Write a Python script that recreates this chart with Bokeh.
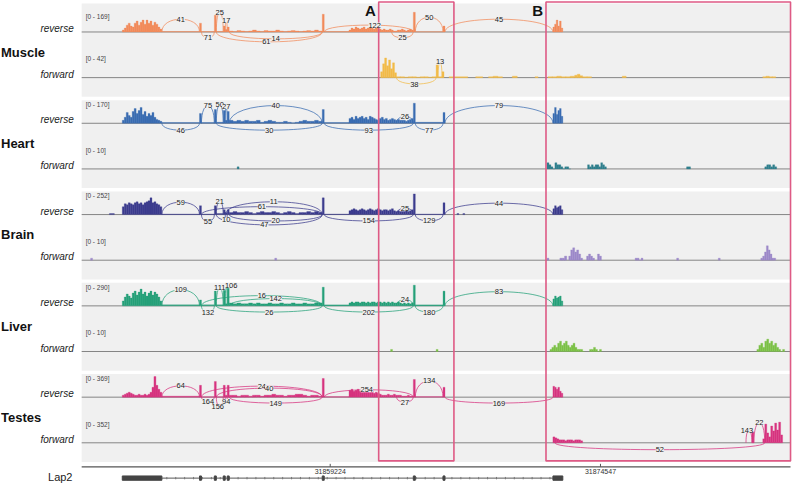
import numpy as np
from bokeh.plotting import figure
from bokeh.models import Range1d, ColumnDataSource, LabelSet
from bokeh.core.properties import value
from bokeh.embed import file_html
from bokeh.resources import INLINE

# ---------------- data ----------------
REGION_START = 31840530            # genomic coordinate at the left edge of the view
tick_values = [31859224, 31874547]
gene_name = "Lap2"
# exon coordinates (bp offsets from REGION_START)
exon_start = [6904, 11282, 12124, 12629, 12854, 18242, 23406, 25090, 31321]
exon_end = [9149, 11394, 12236, 12741, 12966, 18354, 23518, 25202, 31882]
region_names = ["A", "B"]
region_start = [21442, 30928]
region_end = [25708, 44792]

tissues = ["Muscle", "Heart", "Brain", "Liver", "Testes"]
strands = ["reverse", "forward"]
track_max = [169, 42, 170, 10, 252, 10, 290, 10, 369, 352]

# coverage blocks: (start, end, read counts in equal bins)
muscle_rev_cov = [
    (6904, 9149, [16, 32, 56, 72, 48, 40, 72, 89, 56, 80, 97, 64, 97, 72, 89, 56, 80, 64, 40, 24]),
    (9149, 11282, [3]), (11282, 11394, [72]), (11394, 12124, [3]), (12124, 12236, [137]),
    (12236, 12629, [4]), (12629, 12741, [48]), (12741, 12854, [20]), (12854, 12966, [40]),
    (12966, 18242, [8, 4, 12, 8, 4, 8, 16, 8, 4, 12, 8, 8, 16, 8, 4, 8, 12, 8, 4, 8, 12, 8, 16, 8]),
    (18242, 18354, [145]), (18354, 19758, [3]),
    (19758, 23406, [16, 32, 24, 40, 32, 24, 32, 40, 24, 32, 40, 32, 24, 32, 40, 24,
                    16, 24, 16, 16, 24, 16, 8, 8, 16, 16, 24, 16, 8, 16, 24, 16]),
    (23406, 23518, [161]), (23518, 25090, [2]), (25090, 25202, [48]),
    (31321, 31882, [40, 64, 97, 48, 89, 32]),
]
muscle_fwd_cov = [
    (21554, 22452, [12, 28, 40, 24, 36, 18, 30, 10]),
    (22452, 24697, [2, 2, 1, 2, 2, 1, 2, 2, 1, 2]),
    (24697, 24809, [26]), (24809, 25034, [2]), (25034, 25146, [12]),
    (25427, 26494, [2]), (26942, 27335, [2]), (27672, 28458, [2, 3, 2]), (29019, 29300, [3]),
    (30310, 30479, [2]), (31040, 32555, [2, 2, 3, 2, 2, 3]), (32555, 33004, [5, 7, 4]),
    (33004, 33510, [2, 2]), (35250, 35474, [3]), (43220, 43950, [2, 3, 2, 2]),
]
heart_rev_cov = [
    (6904, 9149, [24, 49, 89, 65, 49, 97, 121, 81, 105, 130, 73, 97, 57, 81, 65, 89, 49, 32, 24, 16]),
    (9149, 11282, [6]), (11282, 11394, [81]), (11394, 12124, [6]), (12124, 12236, [113]),
    (12236, 12629, [8]), (12629, 12741, [105]), (12741, 12854, [24]), (12854, 12966, [97]),
    (12966, 18242, [24, 16, 24, 16, 24, 16, 16, 24, 8, 16, 24, 16, 8, 8, 16, 8, 4, 8, 16, 24, 16, 16, 24, 16]),
    (18242, 18354, [113]), (18354, 19758, [6]),
    (19758, 22733, [40, 49, 32, 57, 40, 49, 57, 40, 49, 32, 57, 49, 40, 32, 24, 40, 49, 32, 40, 24,
                    32, 40, 32, 24, 32, 24]),
    (22733, 23406, [24, 24, 16, 24, 32, 40]),
    (23406, 23518, [165]), (23518, 25090, [8]), (25090, 25202, [89]),
    (31321, 31882, [81, 130, 73, 105, 121, 57]),
]
heart_fwd_cov = [
    (13415, 13527, [1]),
    (30984, 32331, [3, 2, 1, 0, 3, 2, 2, 1, 0, 1, 1, 0]),
    (33285, 34352, [2, 1, 2, 1, 2, 2, 1, 3, 2, 1]),
    (38898, 39122, [1]),
    (43332, 44006, [1, 2, 2, 1, 2, 1]),
]
brain_rev_cov = [
    (6174, 6455, [12]),
    (6904, 9149, [96, 132, 120, 144, 132, 120, 144, 156, 132, 144, 120, 144, 156, 168, 204, 144, 156, 132, 120, 96]),
    (9149, 11282, [6]), (11282, 11394, [108]), (11394, 12124, [6]), (12124, 12236, [108]),
    (12236, 12629, [12]), (12629, 12741, [60]), (12741, 12854, [24]), (12854, 12966, [60]),
    (12966, 18242, [24, 36, 24, 24, 36, 24, 12, 24, 36, 24, 24, 36, 24, 12, 24, 36, 24, 12, 24, 24, 36, 24, 36, 24]),
    (18242, 18354, [204]), (18354, 19758, [6]),
    (19758, 22733, [48, 60, 72, 60, 48, 60, 72, 60, 48, 60, 72, 60, 48, 60, 72, 60, 48, 60, 60, 48,
                    60, 72, 48, 36, 48, 36]),
    (22733, 23406, [36, 36, 48, 36, 48, 60]),
    (23406, 23518, [252]), (23518, 25090, [6]), (25090, 25202, [144]),
    (25877, 25989, [12]), (26214, 26326, [12]),
    (31321, 31882, [72, 108, 84, 96, 108, 60]),
]
brain_fwd_cov = [
    (5108, 5220, [1]), (15548, 15660, [1]), (30984, 31096, [1]),
    (31714, 32105, [1, 1, 2]), (32218, 33004, [2, 5, 6, 4, 5, 3, 1]),
    (33229, 33678, [2, 3, 2, 1]), (33846, 34071, [3, 2]),
    (35980, 36429, [1, 1, 0, 1]), (38336, 38448, [1]), (40694, 40806, [1]),
    (43108, 43950, [1, 2, 4, 7, 5, 3, 1, 1]),
]
liver_rev_cov = [
    (6904, 9149, [69, 124, 166, 138, 110, 179, 207, 152, 193, 235, 166, 193, 138, 179, 207, 152, 193, 166, 124, 69]),
    (9149, 11282, [14]), (11282, 11394, [83]), (11394, 12124, [14]), (12124, 12236, [207]),
    (12236, 12629, [14]), (12629, 12741, [221]), (12741, 12854, [28]), (12854, 12966, [248]),
    (12966, 18242, [41, 28, 41, 28, 28, 41, 28, 41, 28, 28, 41, 28, 28, 41, 28, 28, 41, 28, 28, 41, 28, 28, 41, 41]),
    (18242, 18354, [262]), (18354, 19758, [14]),
    (19758, 22733, [41, 55, 41, 55, 55, 41, 55, 55, 41, 55, 41, 55, 55, 41, 55, 55, 41, 55, 41, 55,
                    41, 55, 41, 41, 55, 41]),
    (22733, 23406, [28, 41, 28, 41, 28, 41]),
    (23406, 23518, [290]), (23518, 25090, [14]), (25090, 25202, [207]),
    (31321, 31882, [97, 138, 110, 124, 138, 69]),
]
liver_fwd_cov = [
    (22115, 22227, [1]), (24697, 24809, [1]),
    (31152, 33117, [1, 2, 3, 2, 4, 5, 3, 4, 5, 3, 2, 3, 4, 2, 1, 1, 1, 0]),
    (33397, 34071, [1, 1, 2, 1, 0, 1]),
    (42884, 44455, [1, 3, 4, 2, 5, 6, 4, 5, 3, 4, 2, 1, 0, 1]),
]
testes_rev_cov = [
    (6904, 9149, [35, 53, 70, 88, 70, 53, 35, 35, 53, 35, 35, 53, 35, 53, 88, 176, 369, 211, 141, 88]),
    (9149, 11282, [18]), (11282, 11394, [211]), (11394, 12124, [9]), (12124, 12236, [281]),
    (12236, 12629, [9]), (12629, 12741, [211]), (12741, 12854, [35]), (12854, 12966, [211]),
    (12966, 18242, [35, 35, 18, 35, 35, 18, 35, 35, 18, 35, 35, 53, 35, 35, 18, 35, 35, 53, 53, 35, 18, 35, 35, 18]),
    (18242, 18354, [334]), (18354, 19758, [9]),
    (19758, 22733, [123, 141, 106, 123, 141, 106, 88, 106, 123, 106, 88, 106, 70, 88, 70, 53, 35, 35, 35, 53,
                    35, 35, 53, 35, 35, 35]),
    (22733, 23406, [18, 18, 18, 35, 18, 18]),
    (23406, 23518, [316]), (23518, 25090, [9]), (25090, 25202, [176]),
    (31321, 31882, [194, 176, 141, 176, 106, 70]),
]
testes_fwd_cov = [
    (31321, 33004, [101, 84, 67, 50, 50, 50, 34, 50, 50, 50, 34, 50, 50, 50, 34]),
    (42603, 42715, [185]),
    (43220, 44343, [67, 319, 168, 101, 286, 202, 336, 218, 352, 134]),
]

# splice junctions: (start, end, supporting reads)
muscle_rev_junc = [(9149, 11282, 41), (11394, 12124, 71), (12236, 12629, 25), (12741, 12854, 17),
                   (12236, 18242, 61), (12966, 18242, 14), (18354, 23406, 122), (22171, 23406, 25),
                   (23518, 25090, 50), (25202, 31321, 45)]
muscle_fwd_junc = [(22452, 24697, 38), (24809, 25034, 13)]
heart_rev_junc = [(9149, 11282, 46), (11394, 12124, 75), (12236, 12629, 50), (12741, 12854, 27),
                  (12966, 18242, 40), (12236, 18242, 30), (18354, 23406, 93), (22452, 23406, 26),
                  (23518, 25090, 77), (25202, 31321, 79)]
brain_rev_junc = [(9149, 11282, 59), (11394, 12124, 55), (12236, 12629, 21), (12741, 12854, 10),
                  (12741, 18242, 11), (11394, 18242, 61), (12236, 18242, 47), (12966, 18242, 20),
                  (18354, 23406, 154), (22452, 23406, 25), (23518, 25090, 129), (25202, 31321, 44)]
liver_rev_junc = [(9149, 11282, 109), (11394, 12124, 132), (12236, 12629, 111), (12741, 12854, 106),
                  (11394, 18242, 16), (12966, 18242, 142), (12236, 18242, 26), (18354, 23406, 202),
                  (22452, 23406, 24), (23518, 25090, 180), (25202, 31321, 83)]
testes_rev_junc = [(9149, 11282, 64), (11394, 12124, 164), (12236, 12629, 156), (12741, 12854, 94),
                   (11394, 18242, 24), (12236, 18242, 40), (12966, 18242, 149), (18354, 23406, 254),
                   (22452, 23406, 27), (23518, 25090, 134), (25202, 31321, 169)]
testes_fwd_junc = [(31433, 43332, 52), (42715, 43332, 22), (42266, 42603, 143)]

# ---------------- style / layout ----------------
# arc drawing style per junction: (apex height in px, +above / -below ; label x shift in px)
muscle_rev_arc = [(13, 0), (-6, 0), (20, 0), (12, 0), (-10, -3), (-7, 0), (7, 6), (-6, 0), (15, 0), (13, 0)]
muscle_fwd_arc = [(-6.5, -2), (16, 0)]
heart_rev_arc = [(-7, 0), (18, 0), (19, 0), (17, 0), (18, 0), (-7, 0), (-7, 0), (7, 0), (-7, 0), (18, 0)]
brain_rev_arc = [(12.6, 0), (-7, 0), (13.6, 0), (-5.5, 0), (13, 0), (8, 0), (-10.5, -5), (-6.5, 0),
                 (-6.5, 0), (6.6, 0), (-6.5, 0), (11.6, 0)]
liver_rev_arc = [(16.4, 0), (-6.3, 0), (18.4, 0), (21, 5), (10.4, 0), (7.4, 0), (-6.3, 0), (-6.3, 0),
                 (6.4, 0), (-6.3, 0), (14.4, 0)]
testes_rev_arc = [(11.5, 0), (-4.5, 0), (-9.5, -2), (-4.5, 0), (11.2, 0), (9.2, 0), (-6, 0), (7.5, -2),
                  (-5, 0), (16.5, 0), (-6, 0)]
testes_fwd_arc = [(-7, 0), (20.6, 0), (13, -2)]

coverage = [muscle_rev_cov, muscle_fwd_cov, heart_rev_cov, heart_fwd_cov, brain_rev_cov,
            brain_fwd_cov, liver_rev_cov, liver_fwd_cov, testes_rev_cov, testes_fwd_cov]
junctions = [muscle_rev_junc, muscle_fwd_junc, heart_rev_junc, [], brain_rev_junc, [],
             liver_rev_junc, [], testes_rev_junc, testes_fwd_junc]
arc_style = [muscle_rev_arc, muscle_fwd_arc, heart_rev_arc, [], brain_rev_arc, [],
             liver_rev_arc, [], testes_rev_arc, testes_fwd_arc]
colors = ["#f28b5b", "#f2bb48", "#3a6cb2", "#2f7f8d", "#3c3c8e",
          "#9c89c9", "#26a179", "#7cc146", "#d7337f", "#d7337f"]

W, H = 792, 485
REF_W, REF_H = 800, 493
BP_PER_PX = 56.13
BASE0, PITCH, SCALE = 32.0, 46.4, 21.0
BAND = "#f0f0f0"
FONT = "Liberation Sans"


def gx(rx):
    return REGION_START + rx * BP_PER_PX


p = figure(width=W, height=H, x_range=Range1d(gx(0), gx(REF_W)), y_range=Range1d(REF_H, 0),
           x_axis_type=None, y_axis_type=None, output_backend="svg", toolbar_location=None,
           min_border=0, outline_line_color=None, background_fill_color="white",
           border_fill_color="white")

bases = [BASE0 + k * PITCH for k in range(10)]

# per-track value scales
ranges = {}
for k in range(10):
    vmax = track_max[k]
    b = bases[k]
    ranges[f"t{k}"] = Range1d(start=(b - REF_H) * vmax / SCALE, end=b * vmax / SCALE)
p.extra_y_ranges = ranges

# gray bands per tissue
band_top = [3 if j == 0 else bases[2 * j] - 23.5 for j in range(5)]
band_bot = [bases[2 * j] + PITCH + 19.5 for j in range(5)]
p.quad(left=gx(82), right=gx(798), top=band_top, bottom=band_bot, fill_color=BAND, line_color=None)

# baselines
p.segment(x0=gx(82), x1=gx(798), y0=bases, y1=bases, line_color="#858585", line_width=1)

# coverage
for k in range(10):
    L, R, T = [], [], []
    for s, e, vals in coverage[k]:
        w = (e - s) / len(vals)
        for i, v in enumerate(vals):
            L.append(REGION_START + s + i * w)
            R.append(REGION_START + s + (i + 1) * w)
            T.append(v)
    p.quad(left=L, right=R, bottom=0, top=T, y_range_name=f"t{k}",
           fill_color=colors[k], line_color=colors[k], line_width=0.3)

# junction arcs + counts
for k in range(10):
    if not junctions[k]:
        continue
    b = bases[k]
    x0 = [REGION_START + s for s, e, c in junctions[k]]
    x1 = [REGION_START + e for s, e, c in junctions[k]]
    hs = [h for h, dx in arc_style[k]]
    dxs = [dx for h, dx in arc_style[k]]
    src = ColumnDataSource(dict(
        x0=x0, x1=x1, y=[b] * len(x0),
        cy=[b - h / 0.75 for h in hs],
        lx=[(a + c) / 2 + d * BP_PER_PX for a, c, d in zip(x0, x1, dxs)],
        ly=[b - h for h in hs],
        txt=[str(c) for s, e, c in junctions[k]]))
    p.bezier(x0="x0", y0="y", x1="x1", y1="y", cx0="x0", cy0="cy", cx1="x1", cy1="cy",
             source=src, line_color=colors[k], line_alpha=0.75, line_width=1)
    p.add_layout(LabelSet(x="lx", y="ly", text="txt", source=src, text_font=value(FONT),
                          text_font_size="7.5px", text_color="#222222", text_align="center",
                          text_baseline="middle", background_fill_color=BAND))

# range labels
p.text(x=gx(86), y=[b - 19 if k else b - 16 for k, b in enumerate(bases)],
       text=[f"[0 - {m}]" for m in track_max], text_font=value(FONT), text_font_size="6.5px",
       text_color="#444444", text_baseline="middle")

# strand and tissue labels
p.text(x=gx(74), y=[b - 3.5 for b in bases], text=[strands[k % 2] for k in range(10)],
       text_font=value(FONT), text_font_size="10px", text_font_style="italic",
       text_color="#222222", text_align="right", text_baseline="middle")
p.text(x=gx(0.5), y=[bases[2 * j] + 20.5 for j in range(5)], text=tissues,
       text_font=value(FONT), text_font_size="13px", text_font_style="bold",
       text_color="#111111", text_baseline="middle")

# highlighted regions
p.quad(left=[REGION_START + s for s in region_start], right=[REGION_START + e for e in region_end],
       top=1.5, bottom=468, fill_color=None, line_color="#de5a85", line_width=1.6)
p.text(x=[REGION_START + s - 3 * BP_PER_PX for s in region_start], y=10, text=region_names,
       text_font=value(FONT), text_font_size="15px", text_font_style="bold",
       text_color="#111111", text_align="right", text_baseline="middle")

# coordinate ruler
p.segment(x0=gx(82), x1=gx(798), y0=474, y1=474, line_color="#555555", line_width=1.2)
p.segment(x0=tick_values, x1=tick_values, y0=471, y1=474, line_color="#555555", line_width=1)
p.text(x=tick_values, y=479, text=[str(t) for t in tick_values], text_font=value(FONT),
       text_font_size="7px", text_color="#333333", text_align="center", text_baseline="middle")

# gene model
gy = 485.5
p.segment(x0=REGION_START + exon_end[0], x1=REGION_START + exon_start[-1], y0=gy, y1=gy,
          line_color="#555555", line_width=1)
marks = np.arange(REGION_START + exon_end[0] + 5 * BP_PER_PX, REGION_START + exon_start[-1], 9 * BP_PER_PX)
p.segment(x0=marks, x1=marks, y0=gy - 1.2, y1=gy + 1.2, line_color="#777777", line_width=1)
p.quad(left=[REGION_START + s for s in exon_start], right=[REGION_START + e for e in exon_end],
       top=gy - 2.2, bottom=gy + 2.2, fill_color="#444444", line_color="#444444", line_width=1)
p.text(x=gx(48), y=gy - 1, text=[gene_name], text_font=value(FONT), text_font_size="11px",
       text_color="#222222", text_baseline="middle")

open("out.html", "w").write(file_html(p, INLINE))
